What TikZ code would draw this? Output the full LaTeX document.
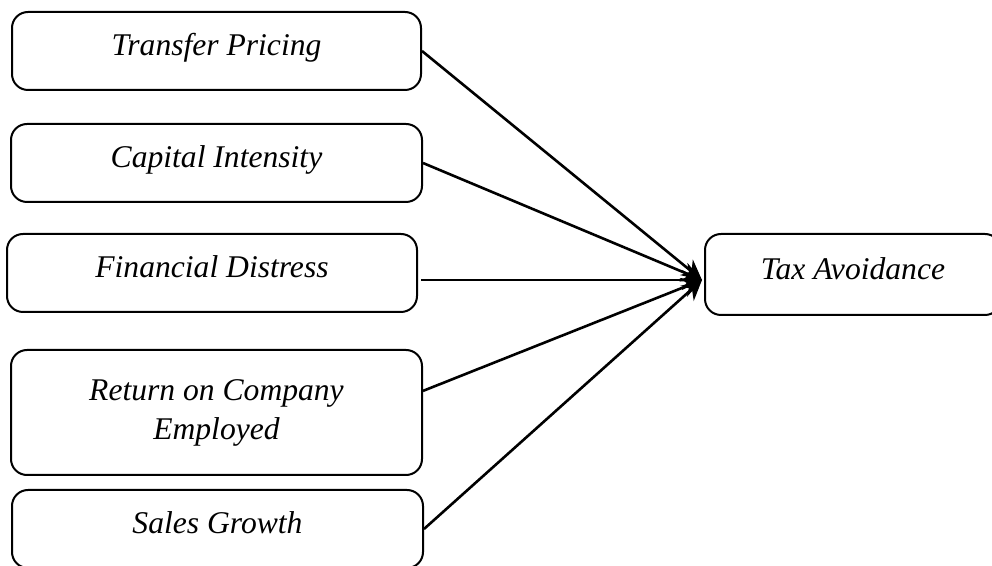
\documentclass[tikz,border=0pt]{standalone}
\usepackage{fontspec}
\setmainfont{Liberation Serif}
\usetikzlibrary{arrows.meta,positioning,calc}

\begin{document}
\begin{tikzpicture}[x=0.5pt, y=-0.5pt,
    var/.style={draw, rounded corners=8pt, line width=1pt, inner sep=0pt,
        minimum width=205pt, minimum height=39pt, align=center,
        font=\fontsize{15.8}{19.5}\selectfont\itshape},
    oneline/.style={text height=11pt, text depth=6pt},
    arr/.style={-{Stealth[length=10pt, width=10pt]}, line width=1.3pt},
]
\useasboundingbox (0,0) rectangle (992,566);
\node[var, oneline, minimum width=204.5pt] (tp) at (216.5, 51) {Transfer Pricing};
\node[var, oneline, minimum width=205.5pt] (ci) at (216.5, 163) {Capital Intensity};
\node[var, oneline] (fd) at (212, 273) {Financial Distress};
\node[var, minimum width=205.5pt, minimum height=62.5pt] (rc) at (216.5, 412.5) {Return on Company\\Employed};
\node[var, oneline, minimum width=205.5pt] (sg) at (217.5, 529) {Sales Growth};
\node[var, oneline, minimum width=148pt, minimum height=40.5pt] (ta) at (853, 274.5) {Tax Avoidance};
\coordinate (hub) at (702, 280);
\draw[arr] (tp.east) -- (hub);
\draw[arr] (ci.east) -- (hub);
\draw[arr] ($(fd.east |- hub)+(3,0)$) -- (hub);
\draw[arr] ($(rc.north east)!0.33!(rc.south east)$) -- (hub);
\draw[arr] (sg.east) -- (hub);
\end{tikzpicture}
\end{document}
